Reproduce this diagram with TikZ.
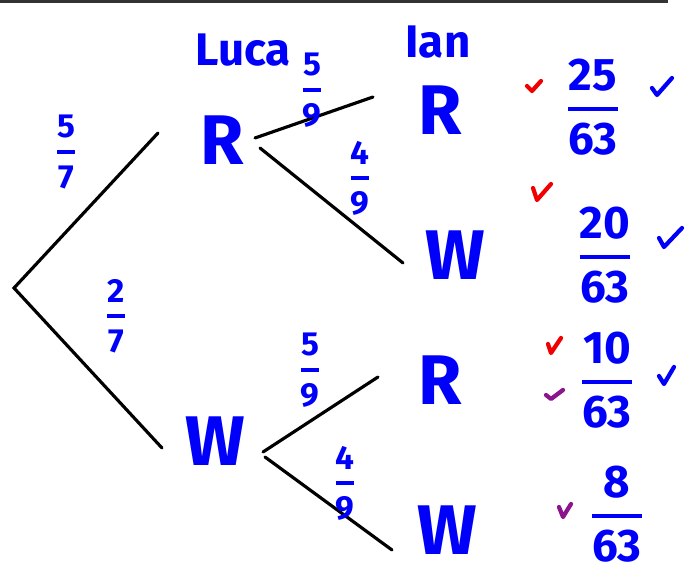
\documentclass[tikz,border=0pt]{standalone}
\usepackage{amsmath}
\usepackage{fontspec}
\setmainfont{Fira Sans}
\usepackage{tikz}
\usetikzlibrary{positioning}
\definecolor{penblue}{RGB}{0,0,250}
\definecolor{penred}{RGB}{240,0,0}
\definecolor{penpurple}{RGB}{140,20,140}
\newcommand{\hfr}[2]{\(\genfrac{}{}{2.2pt}{0}{\text{#1}}{\text{#2}}\)}

\begin{document}
\begin{tikzpicture}[x=0.02cm,y=-0.02cm,
  branch/.style={line width=1.8pt,line cap=round},
  outcome/.style={text=penblue,font=\bfseries\fontsize{40}{40}\selectfont,inner sep=0pt},
  prob/.style={text=penblue,font=\bfseries\fontsize{19}{19}\selectfont,inner sep=0pt},
  result/.style={text=penblue,font=\bfseries\fontsize{26}{26}\selectfont,inner sep=0pt},
  person/.style={text=penblue,font=\bfseries\fontsize{26}{26}\selectfont,inner sep=0pt},
  okmark/.style={line width=2.4pt,line cap=round,line join=round}]
  \useasboundingbox (0,0) rectangle (687,574);
  \draw[line width=1.8pt,black!80] (0,1) -- (668,1);
  % who picks
  \node[person] (luca) at (243,50) {Luca};
  \node[person] (ian) at (438,42) {Ian};
  % first pick
  \coordinate (root) at (14,288);
  \coordinate (rootR) at (158,133);
  \coordinate (rootW) at (162,448);
  \node[outcome] (lucaR) at (222,140) {R};
  \node[outcome] (lucaW) at (215,441) {W};
  \draw[branch] (rootR) -- (root) -- (rootW);
  \node[prob] (pR) at (66,152) {\hfr{5}{7}};
  \node[prob] (pW) at (116,316) {\hfr{2}{7}};
  % second pick
  \coordinate (fromR1) at (255,138);
  \coordinate (fromR2) at (260,148);
  \coordinate (fromW1) at (263,452);
  \coordinate (fromW2) at (265,457);
  \coordinate (toRR) at (373,97);
  \coordinate (toRW) at (403,263);
  \coordinate (toWR) at (378,377);
  \coordinate (toWW) at (392,550);
  \draw[branch] (fromR1) -- (toRR);
  \draw[branch] (fromR2) -- (toRW);
  \draw[branch] (fromW1) -- (toWR);
  \draw[branch] (fromW2) -- (toWW);
  \node[outcome] (ianRR) at (440,110) {R};
  \node[outcome] (ianRW) at (455,255) {W};
  \node[outcome] (ianWR) at (440,380) {R};
  \node[outcome] (ianWW) at (447,530) {W};
  \node[prob] (pRR) at (312,90) {\hfr{5}{9}};
  \node[prob] (pRW) at (360,178) {\hfr{4}{9}};
  \node[prob] (pWR) at (310,370) {\hfr{5}{9}};
  \node[prob] (pWW) at (345,483) {\hfr{4}{9}};
  % answers
  \node[result] (aRR) at (593,107) {\hfr{25}{63}};
  \node[result] (aRW) at (605,255) {\hfr{20}{63}};
  \node[result] (aWR) at (607,380) {\hfr{10}{63}};
  \node[result] (aWW) at (617,514) {\hfr{8}{63}};
  % marking
  \draw[okmark,penred] (527,86) -- (532,91) -- (541,81);
  \draw[okmark,penblue] (652,88) -- (657,95) -- (672,78);
  \draw[okmark,penred] (533,188) -- (537,200) -- (551,184);
  \draw[okmark,penblue] (659,238) -- (664,247) -- (682,228);
  \draw[okmark,penred] (548,344) -- (551,353) -- (561,338);
  \draw[okmark,penpurple] (546,395) -- (551,399) -- (563,390);
  \draw[okmark,penblue] (659,376) -- (664,384) -- (674,367);
  \draw[okmark,penpurple] (559,507) -- (563,517) -- (571,504);
\end{tikzpicture}
\end{document}
